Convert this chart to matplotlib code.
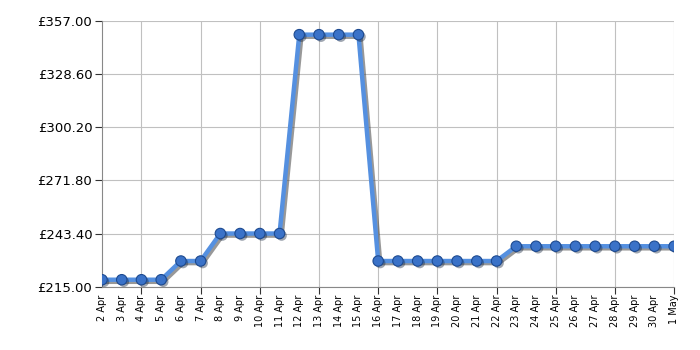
import matplotlib
matplotlib.use("Agg")
import matplotlib.pyplot as plt
import matplotlib.patheffects as pe

# données
dates = ["2 Apr", "3 Apr", "4 Apr", "5 Apr", "6 Apr", "7 Apr", "8 Apr", "9 Apr",
         "10 Apr", "11 Apr", "12 Apr", "13 Apr", "14 Apr", "15 Apr", "16 Apr",
         "17 Apr", "18 Apr", "19 Apr", "20 Apr", "21 Apr", "22 Apr", "23 Apr",
         "24 Apr", "25 Apr", "26 Apr", "27 Apr", "28 Apr", "29 Apr", "30 Apr", "1 May"]
prices = [218.7, 218.7, 218.7, 218.7, 228.7, 228.7, 243.4, 243.4, 243.4, 243.4,
          349.7, 349.7, 349.7, 349.7, 228.7, 228.7, 228.7, 228.7, 228.7, 228.7,
          228.7, 236.6, 236.6, 236.6, 236.6, 236.6, 236.6, 236.6, 236.6, 236.6]
y_ticks = [215.00, 243.40, 271.80, 300.20, 328.60, 357.00]

fig = plt.figure(figsize=(7, 3.5), dpi=100)
ax = fig.add_axes([0.1457, 0.181, 0.8173, 0.759])

x = list(range(len(dates)))
shadow = [pe.SimpleLineShadow(offset=(1.5, -1.5), shadow_color="#444444", alpha=0.55), pe.Normal()]
ax.plot(x, prices, color="#5590e0", lw=3.2, zorder=3, path_effects=shadow)
ax.plot(x, prices, ls="none", marker="o", ms=7.5, mfc="#3a72c8", mec="#1d4a90", mew=0.8,
        zorder=4, path_effects=[pe.SimplePatchShadow(offset=(1.5, -1.5), alpha=0.4), pe.Normal()])

ax.set_xlim(0, len(dates) - 1)
ax.set_ylim(215, 357)
ax.set_yticks(y_ticks)
ax.set_yticklabels(["£%.2f" % v for v in y_ticks], fontsize=9.5)

# grille verticale tous les 3 jours
grid_idx = [2] + list(range(5, len(dates), 3))
ax.xaxis.remove_overlapping_locs = False
ax.set_xticks(grid_idx)
ax.set_xticklabels([])
ax.set_xticks(x, minor=True)
ax.set_xticklabels(dates, minor=True, rotation=90, fontsize=7)
ax.tick_params(axis="x", which="minor", length=0, pad=6)
ax.tick_params(axis="x", which="major", length=5, color="#333333")
ax.tick_params(axis="y", length=5, color="#333333", pad=2)

ax.grid(True, which="major", color="#c0c0c0", lw=0.8)
for s in ["top", "right"]:
    ax.spines[s].set_visible(False)
for s in ["left", "bottom"]:
    ax.spines[s].set_color("#888888")

fig.savefig("out.png", dpi=100)
